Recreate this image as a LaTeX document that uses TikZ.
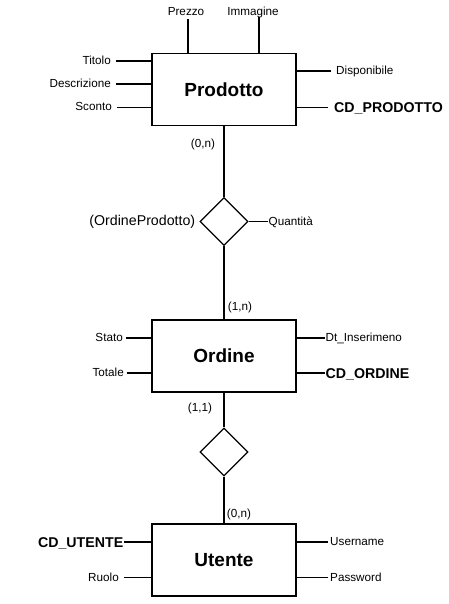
\documentclass[tikz,border=0pt]{standalone}
\usepackage{fontspec}
\setmainfont{Liberation Sans}
\usetikzlibrary{shapes.geometric}
\usetikzlibrary{positioning}
\tikzset{entity/.style = {draw, rectangle, line width = 1.2, minimum width = 144,
                          minimum height = 72, inner sep = 0,
                          font = \fontsize{19}{22}\selectfont\bfseries}}
\tikzset{rel/.style = {draw, diamond, aspect = 1, line width = 1.2, minimum width = 48,
                       minimum height = 48, inner sep = 0}}
\tikzset{attr/.style = {inner xsep = 3, inner ysep = 2, text height = 8.5, text depth = 1.5,
                        font = \fontsize{11.7}{14}\selectfont}}
\tikzset{key/.style = {attr, text height = 10.3, text depth = 0,
                       font = \fontsize{14.2}{17}\selectfont\bfseries}}
\tikzset{relname/.style = {attr, text height = 10.3, text depth = 3,
                           font = \fontsize{14.2}{17}\selectfont}}
\tikzset{card/.style = {attr, inner sep = 0}}
\tikzset{link/.style = {line width = 1.2}}

\begin{document}
\begin{tikzpicture}[x = 1pt, y = -1pt]
      \useasboundingbox (0, 0) rectangle (448, 604);

      \node [entity] (prodotto) at (224, 89.5) {Prodotto};
      \node [entity] (ordine) at (224, 356) {Ordine};
      \node [entity] (utente) at (224, 560) {Utente};
      \node [rel] (ordprod) at (224, 221.5) {};
      \node [rel] (ordut) at (224, 452) {};

      \draw [link] (prodotto) -- (ordprod);
      \draw [link] (ordprod) -- (ordine);
      \draw [link] (ordine) -- (ordut);
      \draw [link] (ordut) -- (utente);

      \node [relname, left = 1pt of ordprod] (ordprodname) {(OrdineProdotto)};
      \node [attr, anchor = west, inner xsep = 0.5] (quantita) at (268, 221.5) {Quantità};
      \draw [link] (ordprod) -- (quantita);

      \node [card] (card1) at (203, 144) {(0,n)};
      \node [card] (card2) at (240, 307) {(1,n)};
      \node [card] (card3) at (200, 408) {(1,1)};
      \node [card] (card4) at (239, 514) {(0,n)};

      \node [attr] (prezzo) at (186, 12) {Prezzo};
      \node [attr] (immagine) at (253, 12) {Immagine};
      \draw [link] ([xshift = 2]prezzo.south) -- ([xshift = 2]prezzo.south |- prodotto.north);
      \draw [link] ([xshift = 6, yshift = 2]immagine.south) -- ([xshift = 6]immagine.south |- prodotto.north);

      \node [attr, anchor = east, inner xsep = 5] (titolo) at (116, 61) {Titolo};
      \node [attr, anchor = east, inner xsep = 5] (descrizione) at (116, 84) {Descrizione};
      \node [attr, anchor = east, inner xsep = 5] (sconto) at (117, 107.5) {Sconto};
      \node [attr, anchor = west, inner xsep = 5] (disponibile) at (331, 71) {Disponibile};
      \node [key, anchor = west, inner xsep = 6] (cdprodotto) at (328, 107.5) {CD\_PRODOTTO};
      \draw [link] (titolo) -- (titolo -| prodotto.west);
      \draw [link] (descrizione) -- (descrizione -| prodotto.west);
      \draw [link] (sconto) -- (sconto -| prodotto.west);
      \draw [link] (disponibile) -- (disponibile -| prodotto.east);
      \draw [link] (cdprodotto) -- (cdprodotto -| prodotto.east);

      \node [attr, anchor = east] (stato) at (126, 338) {Stato};
      \node [attr, anchor = east] (totale) at (127, 373) {Totale};
      \node [attr, anchor = west, inner xsep = 0.5] (dtins) at (325, 338) {Dt\_Inserimeno};
      \node [key, anchor = west, inner xsep = 0.5] (cdordine) at (325, 373) {CD\_ORDINE};
      \draw [link] (stato) -- (stato -| ordine.west);
      \draw [link] (totale) -- (totale -| ordine.west);
      \draw [link] (dtins) -- (dtins -| ordine.east);
      \draw [link] (cdordine) -- (cdordine -| ordine.east);

      \node [key, anchor = east, inner xsep = 0.5] (cdutente) at (124, 542) {CD\_UTENTE};
      \node [attr, anchor = east, inner xsep = 5] (ruolo) at (124, 577.5) {Ruolo};
      \node [attr, anchor = west, inner xsep = 2] (username) at (328, 542) {Username};
      \node [attr, anchor = west, inner xsep = 2] (password) at (328, 577.5) {Password};
      \draw [link] (cdutente) -- (cdutente -| utente.west);
      \draw [link] (ruolo) -- (ruolo -| utente.west);
      \draw [link] (username) -- (username -| utente.east);
      \draw [link] (password) -- (password -| utente.east);
\end{tikzpicture}
\end{document}
